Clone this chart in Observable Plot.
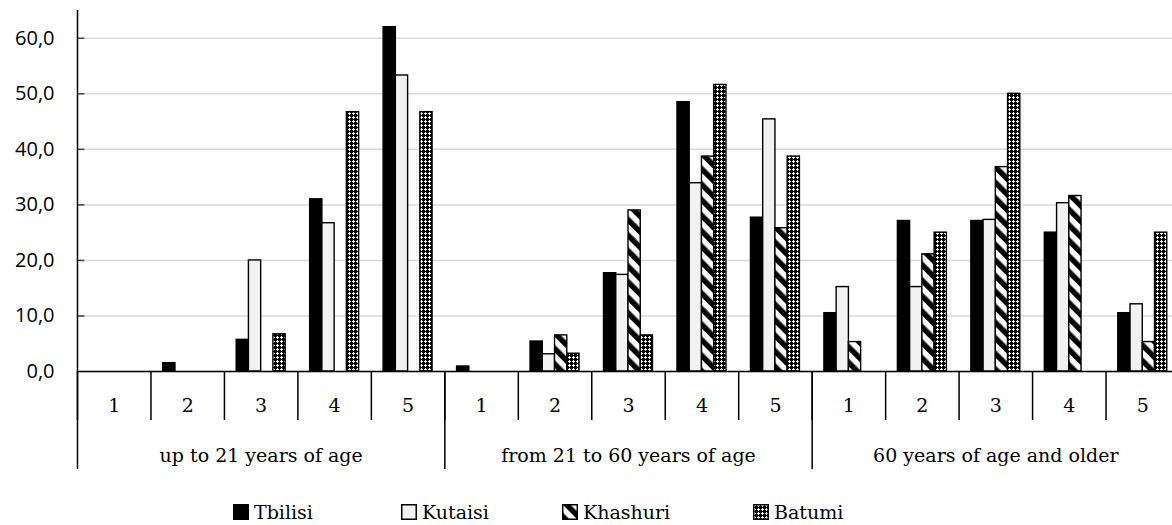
<!DOCTYPE html>
<html>
<head>
<meta charset="utf-8">
<script src="https://cdn.jsdelivr.net/npm/d3@7"></script>
<script src="https://cdn.jsdelivr.net/npm/@observablehq/plot@0.6"></script>
<style>
  html, body { margin: 0; padding: 0; background: #fff; }
  #wrap { position: relative; width: 1172px; height: 525px; overflow: hidden; }
  #legend { position: absolute; left: 0; top: 0; width: 1172px; height: 525px; pointer-events: none; }
  .item { position: absolute; top: 501px; display: flex; align-items: center; color: #000; }
  .item span { font-family: 'DejaVu Serif'; font-size: 19px; }
  .item svg { margin-right: 5px; }
</style>
</head>
<body>
<div id="wrap"><div id="chart"></div><div id="legend"></div></div>
<script>
const groups = ["up to 21 years of age", "from 21 to 60 years of age", "60 years of age and older"];
const subcats = ["1", "2", "3", "4", "5"];
const series = ["Tbilisi", "Kutaisi", "Khashuri", "Batumi"];
const tbilisi  = [0, 1.5, 5.7, 31.0, 62.0,  0.9, 5.4, 17.7, 48.5, 27.7,  10.5, 27.1, 27.1, 25.0, 10.5];
const kutaisi  = [0, 0, 20.0, 26.7, 53.3,   0, 3.1, 17.4, 33.9, 45.4,    15.2, 15.2, 27.3, 30.3, 12.1];
const khashuri = [0, 0, 0, 0, 0,            0, 6.5, 29.0, 38.7, 25.8,    5.3, 21.1, 36.8, 31.6, 5.3];
const batumi   = [0, 0, 6.7, 46.7, 46.7,    0, 3.2, 6.5, 51.6, 38.7,     0, 25.0, 50.0, 0, 25.0];
const yTicks = [0, 10, 20, 30, 40, 50, 60];
const legendLeft = [233, 401, 562, 753];

const values = [tbilisi, kutaisi, khashuri, batumi];
const fills = ["#000000", "#f2f2f2", "url(#pat-khashuri)", "url(#pat-batumi)"];
const nCats = groups.length * subcats.length;
const slots = series.length + 2;

const rows = values.map((arr, si) =>
  arr.map((v, i) => ({series: series[si], si, cat: i, v})).filter(d => d.v > 0));

const catCenters = d3.range(nCats).map(i => i + 0.5);
const groupCenters = groups.map((g, gi) => gi * subcats.length + subcats.length / 2);
const groupBounds = d3.range(groups.length + 1).map(g => g * subcats.length);

const fmt = d => d.toFixed(1).replace(".", ",");

const plot = Plot.plot({
  width: 1172,
  height: 492,
  marginLeft: 77,
  marginRight: -7,
  marginTop: 10,
  marginBottom: 121,
  x: {type: "linear", domain: [0, nCats], label: null},
  y: {domain: [0, 65], label: null},
  style: {background: "transparent"},
  marks: [
    Plot.gridY(yTicks, {stroke: "#d9d9d9", strokeOpacity: 1, strokeWidth: 1.5}),
    Plot.ruleY(yTicks.slice(1), {x1: 0, x2: 0.1, stroke: "#444", strokeWidth: 1.5}),
    ...rows.map((data, si) => Plot.rectY(data, {
      x1: d => d.cat + (d.si + 1) / slots,
      x2: d => d.cat + (d.si + 2) / slots,
      y1: 0,
      y2: "v",
      fill: fills[si],
      stroke: "#000",
      strokeWidth: 1.4
    })),
    Plot.ruleY([0], {stroke: "#000", strokeWidth: 1.5}),
    Plot.ruleX([0], {y1: 0, y2: 65, stroke: "#000", strokeWidth: 1.5}),
    Plot.axisY({ticks: yTicks, tickSize: 0, tickPadding: 23, tickFormat: fmt, fontSize: 20, fontFamily: "Open Sans", label: null}),
    Plot.axisX({ticks: d3.range(nCats + 1), tickSize: 49, tickFormat: () => "", stroke: "#000", strokeWidth: 1.5, label: null}),
    Plot.axisX({ticks: groupBounds, tickSize: 98, tickFormat: () => "", stroke: "#000", strokeWidth: 1.5, label: null}),
    Plot.axisX({ticks: catCenters, tickSize: 0, tickPadding: 27, tickFormat: d => subcats[Math.floor(d) % subcats.length], fontSize: 19, fontFamily: "DejaVu Serif", label: null}),
    Plot.axisX({ticks: groupCenters, tickSize: 0, tickPadding: 77, tickFormat: d => groups[Math.floor(d / subcats.length)], fontSize: 19, fontFamily: "DejaVu Serif", label: null})
  ]
});

const ns = "http://www.w3.org/2000/svg";
const defsSvg = `
<defs>
  <pattern id="pat-khashuri" patternUnits="userSpaceOnUse" width="11" height="11" patternTransform="rotate(-45)">
    <rect x="0" y="0" width="11" height="11" fill="#fff"/>
    <rect x="0" y="0" width="5.5" height="11" fill="#000"/>
  </pattern>
  <pattern id="pat-batumi" patternUnits="userSpaceOnUse" width="4" height="4">
    <rect x="0" y="0" width="4" height="4" fill="#000"/>
    <rect x="1" y="0" width="1" height="3" fill="#fff"/>
    <rect x="0" y="1" width="3" height="1" fill="#fff"/>
  </pattern>
</defs>`;
const tmp = document.createElementNS(ns, "svg");
tmp.innerHTML = defsSvg;
plot.insertBefore(tmp.firstElementChild, plot.firstChild);
document.getElementById("chart").appendChild(plot);

const legend = document.getElementById("legend");
series.forEach((s, si) => {
  const div = document.createElement("div");
  div.className = "item";
  div.style.left = legendLeft[si] + "px";
  div.innerHTML = `<svg width="16" height="16"><rect x="0.75" y="0.75" width="14.5" height="14.5" fill="${fills[si]}" stroke="#000" stroke-width="1.5"/></svg><span>${s}</span>`;
  legend.appendChild(div);
});
</script>
</body>
</html>
